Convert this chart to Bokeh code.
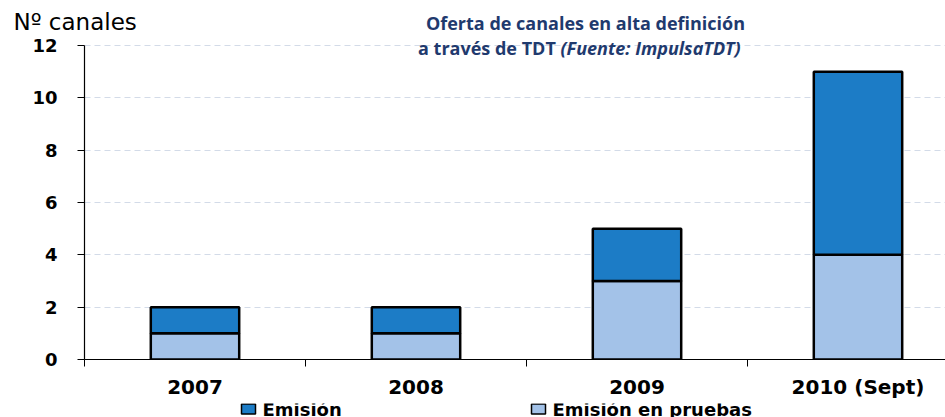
from bokeh.plotting import figure
from bokeh.layouts import column, row
from bokeh.models import (Range1d, FixedTicker, ColumnDataSource,
                          SingleIntervalTicker)
from bokeh.core.properties import value
from bokeh.embed import file_html
from bokeh.resources import INLINE

categories = ["2007", "2008", "2009", "2010 (Sept)"]
pruebas = [1, 1, 3, 4]
emision = [1, 1, 2, 7]
series_names = ["Emisión", "Emisión en pruebas"]
y_title = "Nº canales"
title_1 = "Oferta de canales en alta definición"
title_2a = "a través de TDT "
title_2b = "(Fuente: ImpulsaTDT)"

dark = "#1c7cc6"
light = "#a3c2e8"
navy = "#1f3a6e"

W = 945
LEFT = 84
H_HEAD = 33
H_MAIN = 370
H_LEG = 14
CAT_PX = 221
FRAME_TOP = H_HEAD      # canvas y of main frame top
TICK12 = 45             # canvas y of value 12
ZERO = 359              # canvas y of value 0


def bare(h):
    f = figure(width=W, height=h, output_backend="svg", toolbar_location=None,
               x_range=Range1d(0, W), y_range=Range1d(h, 0),
               x_axis_type=None, y_axis_type=None,
               min_border=0, min_border_left=0, min_border_right=0,
               min_border_top=0, min_border_bottom=0)
    f.outline_line_color = None
    f.grid.visible = False
    return f


# ---------- header ----------
head = bare(H_HEAD)
head.text(x=[13], y=[21], text=[y_title], text_font=value("DejaVu Sans"),
          text_font_size="23px", text_color="black", text_baseline="middle")
head.text(x=[585], y=[22], text=[title_1], text_font=value("Open Sans"),
          text_font_style="bold", text_font_size="18px", text_color=navy,
          text_align="center", text_baseline="middle")

# ---------- main ----------
xs = [i + 0.5 for i in range(len(categories))]
top2 = [a + b for a, b in zip(pruebas, emision)]
src = ColumnDataSource(dict(x=xs, p=pruebas, t2=top2, z=[0] * len(xs)))

px_per_unit = (ZERO - TICK12) / 12.0
y_end = 12 + (TICK12 - FRAME_TOP) / px_per_unit
BOTTOM = H_MAIN - (ZERO - H_HEAD)

p = figure(width=W, height=H_MAIN, output_backend="svg", toolbar_location=None,
           x_range=Range1d(0, (W - LEFT) / CAT_PX), y_range=Range1d(0, y_end),
           min_border_left=LEFT, min_border_right=0, min_border_top=0,
           min_border_bottom=BOTTOM)
p.outline_line_color = None
p.background_fill_color = "white"

r1 = p.vbar(x="x", bottom="z", top="p", width=0.4, source=src,
            fill_color=light, line_color="black", line_width=2.5)
r2 = p.vbar(x="x", bottom="p", top="t2", width=0.4, source=src,
            fill_color=dark, line_color="black", line_width=2.5)

p.yaxis.ticker = SingleIntervalTicker(interval=2)
p.yaxis.bounds = (0, 12)
p.yaxis.minor_tick_line_color = None
p.yaxis.major_tick_out = 7
p.yaxis.major_tick_in = 0
p.yaxis.major_label_text_font = "DejaVu Sans"
p.yaxis.major_label_text_font_style = "bold"
p.yaxis.major_label_text_font_size = "18px"
p.yaxis.major_label_text_color = "black"
p.yaxis.major_label_standoff = 20
p.yaxis.axis_line_color = "black"
p.yaxis.axis_line_width = 1.2
p.yaxis.major_tick_line_color = "black"

p.xaxis.ticker = FixedTicker(ticks=xs, minor_ticks=list(range(len(categories) + 1)))
p.xaxis.major_label_overrides = {x: c for x, c in zip(xs, categories)}
p.xaxis.major_tick_line_color = None
p.xaxis.minor_tick_out = 7
p.xaxis.minor_tick_in = 0
p.xaxis.minor_tick_line_color = "black"
p.xaxis.axis_line_color = "black"
p.xaxis.axis_line_width = 1.2
p.xaxis.major_label_text_font = "DejaVu Sans"
p.xaxis.major_label_text_font_style = "bold"
p.xaxis.major_label_text_font_size = "20px"
p.xaxis.major_label_text_color = "black"
p.xaxis.major_label_standoff = 8

p.xgrid.grid_line_color = None
p.ygrid.grid_line_color = "#d3dbe8"
p.ygrid.grid_line_dash = "6 4"
p.ygrid.ticker = SingleIntervalTicker(interval=2)

# second title line inside the main frame (overlaps the top grid line)
p.text(x=[(560 - LEFT) / CAT_PX], y=[12 - (47 - TICK12) / px_per_unit],
       text=[title_2a], text_font=value("Open Sans"), text_font_style="bold",
       text_font_size="18px", text_color=navy, text_align="right",
       text_baseline="middle")
p.text(x=[(560 - LEFT) / CAT_PX], y=[12 - (47 - TICK12) / px_per_unit],
       text=[title_2b], text_font=value("Open Sans"),
       text_font_style="bold italic", text_font_size="18px", text_color=navy,
       text_align="left", text_baseline="middle")

# ---------- legend row ----------
leg = bare(H_LEG)
leg_x = [248, 538]
leg.rect(x=leg_x, y=[5.5, 5.5], width=14, height=10,
         fill_color=[dark, light], line_color="black", line_width=1.5)
leg.text(x=[x + 14 for x in leg_x], y=[6, 6], text=series_names,
         text_font=value("DejaVu Sans"), text_font_style="bold",
         text_font_size="18px", text_color="black",
         text_baseline="middle")

layout = column(row(head), p, row(leg), spacing=0)
open("out.html", "w").write(file_html(layout, INLINE))
